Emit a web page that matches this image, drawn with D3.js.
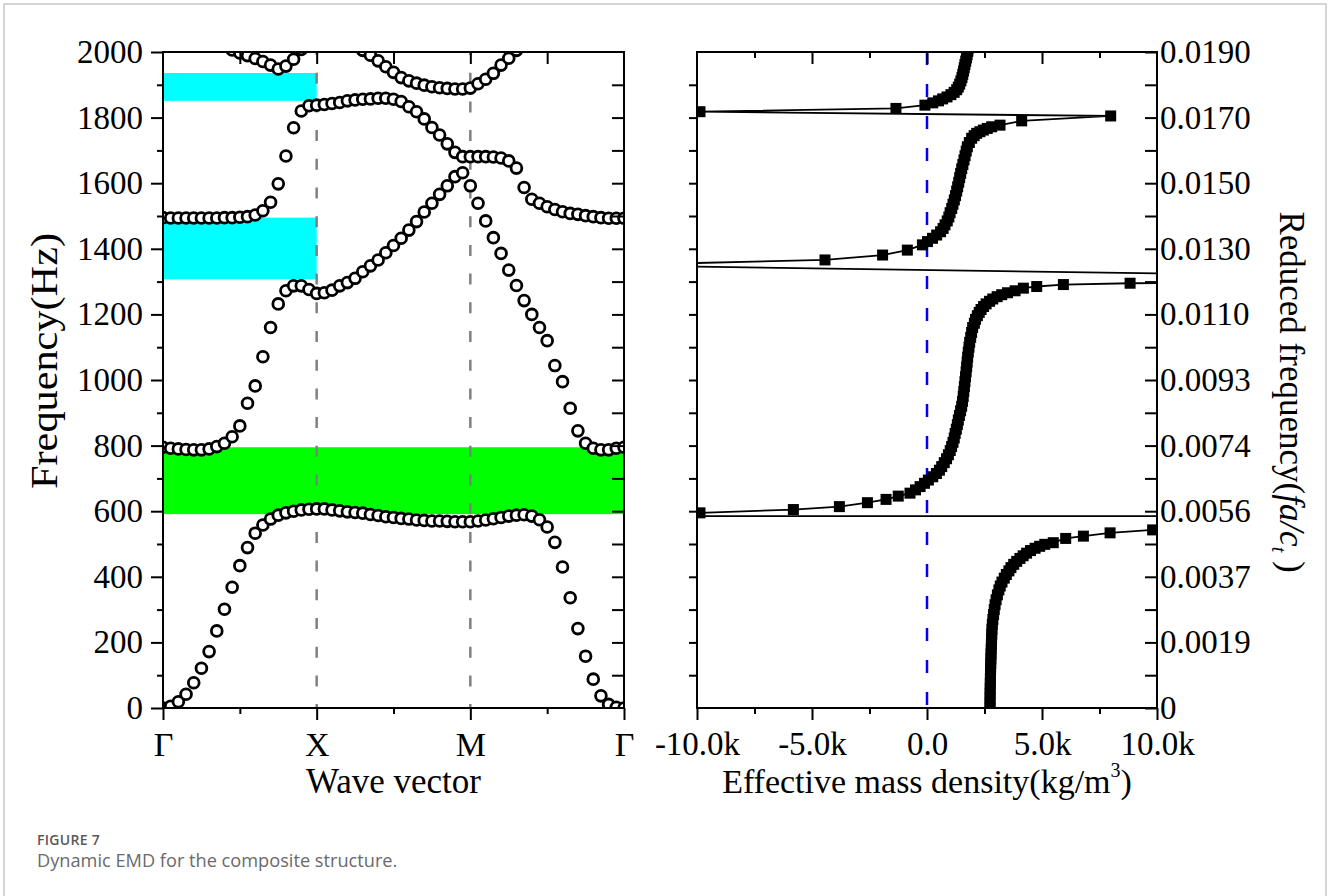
<!DOCTYPE html>
<html><head><meta charset="utf-8">
<script src="https://cdn.jsdelivr.net/npm/d3@7"></script>
<style>
html,body{margin:0;padding:0;background:#fff;}
svg{display:block;}
</style></head>
<body>
<svg id="chart" width="1328" height="896"></svg>
<script>
// ---------------- DATA ----------------
// Left panel: band structure, 61 k-points along Γ-X-M-Γ (index 0..60)
const kTickIdx = [0, 20, 40, 60];
const kLabels = ["Γ", "X", "M", "Γ"];
const branchA = [0,5,19,42,77,121,172,235,301,368,434,489,533,558,576,588,595,600,604,606,607,
  607,604,601,598,596,594,590,587,583,581,578,576,573,572,570,570,569,568,568,568,
  570,573,577,581,585,588,589,585,574,552,505,430,336,242,158,88,37,11,2,0];
const branchB = [795,792,790,788,787,787,790,797,807,827,860,929,982,1071,1160,1232,1272,1287,1287,1276,1264,
  1266,1274,1287,1297,1310,1330,1348,1366,1388,1410,1432,1457,1483,1512,1539,1566,1592,1620,1632,1592,
  1539,1485,1434,1386,1335,1288,1242,1200,1160,1120,1044,995,914,845,807,792,787,787,792,795];
const branchC = [1495,1494,1494,1494,1494,1494,1494,1494,1495,1495,1496,1498,1503,1516,1542,1598,1683,1769,1820,1836,1838,
  1840,1843,1846,1851,1854,1856,1857,1859,1859,1856,1849,1833,1818,1796,1770,1747,1720,1694,1681,1681,
  1681,1681,1680,1677,1668,1646,1587,1551,1539,1528,1520,1513,1508,1505,1501,1498,1495,1493,1493,1493];
const branchD = [null,null,null,null,null,null,null,null,null,2006,1997,1989,1980,1971,1960,1948,1957,1978,2008,null,null,
  null,null,null,null,null,null,null,null,null,null,null,null,null,null,null,null,null,null,null,null,
  null,null,null,null,null,null,null,null,null,null,null,null,null,null,null,null,null,null,null,null];
const branchE = [null,null,null,null,null,null,null,null,null,null,null,null,null,null,null,null,null,null,null,null,null,
  null,null,null,null,2018,2005,1990,1973,1955,1938,1922,1912,1905,1899,1894,1891,1889,1887,1887,1890,
  1903,1917,1935,1960,1981,2005,null,null,null,null,null,null,null,null,null,null,null,null,null,null];
// Band gaps (Hz) and their k extent
const gapLow  = [591, 1307, 1851];
const gapHigh = [795, 1495, 1936];
const gapKEnd = [60, 20, 20];

// Frequency axis
const freqTicks = [0,200,400,600,800,1000,1200,1400,1600,1800,2000];
const freqLabels = ["0","200","400","600","800","1000","1200","1400","1600","1800","2000"];
const reducedLabels = ["0","0.0019","0.0037","0.0056","0.0074","0.0093","0.0110","0.0130","0.0150","0.0170","0.0190"];

// Right panel: effective mass density sweep
const emdFreq = [0,15,30,45,60,75,90,105,120,135,150,165,180,195,210,225,240,255,270,285,300,315,330,345,360,372,384,396,407,418,428,438,447,456,464,472,480,487,493,499,504,517,524,534,543,584,586,
  595,605,614,626,636,646,655,665,675,685,695,705,715,725,736,748,760,772,785,797,810,823,837,850,864,878,892,906,920,935,950,965,980,995,1010,1025,1040,1055,1070,1085,1100,1115,1130,1145,1160,1173,1185,1196,1206,1215,1224,1232,1240,1247,1254,1260,1266,1272,1280,1285,1291,1295,1304,1350,
  1366,1381,1396,1412,1422,1432,1442,1452,1462,1473,1485,1497,1510,1523,1536,1549,1562,1576,1589,1603,1617,1630,1644,1657,1671,1684,1698,1711,1724,1737,1745,1752,1757,1762,1767,1772,1777,1790,1805,
  1818,1828,1838,1845,1851,1857,1863,1870,1877,1885,1893,1902,1912,1922,1932,1942,1952,1962,1972,1982,1992,2002,2012];
const emdDensity = [2740,2740,2742,2745,2748,2752,2756,2760,2766,2772,2778,2785,2792,2800,2808,2815,2825,2840,2865,2895,2925,2960,3005,3060,3125,3185,3260,3360,3450,3560,3650,3770,3900,4040,4180,4330,4500,4700,4900,5120,5490,6030,6800,7960,9810,200000,-200000,
  -9870,-5810,-3810,-2590,-1780,-1250,-740,-500,-300,-110,60,250,410,540,640,750,850,930,1010,1070,1130,1185,1225,1275,1320,1362,1410,1460,1507,1545,1575,1600,1625,1650,1675,1700,1725,1745,1768,1795,1825,1855,1900,1940,1985,2060,2110,2190,2270,2350,2460,2570,2720,2860,3050,3250,3500,3830,4190,4770,5930,8830,30000,-14000,
  -4435,-1930,-855,-200,20,240,420,590,700,783,880,950,1005,1075,1130,1188,1240,1290,1333,1380,1420,1464,1510,1560,1609,1655,1705,1754,1840,1942,2050,2160,2300,2449,2620,2812,3174,4116,7986,
  -9870,-1350,-90,250,500,680,870,1040,1180,1290,1360,1420,1475,1520,1555,1590,1620,1650,1685,1715,1745,1775,1800];
const densTicks = [-10000,-5000,0,5000,10000];
const densLabels = ["-10.0k","-5.0k","0.0","5.0k","10.0k"];

// ---------------- DRAWING ----------------
const SERIF = '"Liberation Serif","Times New Roman",serif';
const FS = 33;
const svg = d3.select("#chart");
svg.append("rect").attr("x",0).attr("y",0).attr("width",1328).attr("height",896).attr("fill","#fff");
svg.append("rect").attr("x",4).attr("y",4).attr("width",1322).attr("height",905)
  .attr("fill","none").attr("stroke","#c8c8c8").attr("stroke-width",1.5);

const L = {x0:163, x1:624, y0:52, y1:708};
const R = {x0:697, x1:1157, y0:52, y1:708};
const xL = d3.scaleLinear().domain([0,60]).range([L.x0,L.x1]);
const yF = d3.scaleLinear().domain([0,2000]).range([L.y1,L.y0]);
const xR = d3.scaleLinear().domain([-10000,10000]).range([R.x0,R.x1]);

const defs = svg.append("defs");
defs.append("clipPath").attr("id","clipL").append("rect")
  .attr("x",L.x0).attr("y",L.y0).attr("width",L.x1-L.x0).attr("height",L.y1-L.y0);
defs.append("clipPath").attr("id","clipR").append("rect")
  .attr("x",R.x0).attr("y",R.y0).attr("width",R.x1-R.x0).attr("height",R.y1-R.y0);

// ---- Left panel ----
const gL = svg.append("g").attr("clip-path","url(#clipL)");
const gapColors = ["#00ff00","#00ffff","#00ffff"];
gL.selectAll("rect.gap").data(d3.range(gapLow.length)).enter().append("rect")
  .attr("x", xL(0)).attr("width", i => xL(gapKEnd[i]) - xL(0))
  .attr("y", i => yF(gapHigh[i])).attr("height", i => yF(gapLow[i]) - yF(gapHigh[i]))
  .attr("fill", i => gapColors[i]);
gL.selectAll("line.sym").data([kTickIdx[1], kTickIdx[2]]).enter().append("line")
  .attr("x1", d => xL(d)).attr("x2", d => xL(d)).attr("y1", L.y0).attr("y2", L.y1)
  .attr("stroke","#808080").attr("stroke-width",2.5)
  .attr("stroke-dasharray","11 17.7").attr("stroke-dashoffset",8);

const branches = [branchA, branchB, branchC, branchD, branchE];
branches.forEach(br => {
  gL.selectAll(null).data(br.map((f,i)=>({i,f})).filter(d=>d.f!==null)).enter().append("circle")
    .attr("cx", d => xL(d.i)).attr("cy", d => yF(d.f)).attr("r", 5.4)
    .attr("fill","#fff").attr("stroke","#000").attr("stroke-width",2.8);
});

function styleAxis(g){
  g.select(".domain").remove();
  g.selectAll(".tick line").attr("stroke","#000").attr("stroke-width",2);
  g.selectAll("text").attr("font-family",SERIF).attr("font-size",FS).attr("fill","#000");
  return g;
}
// left axis (outward)
styleAxis(svg.append("g").attr("transform",`translate(${L.x0},0)`)
  .call(d3.axisLeft(yF).tickValues(freqTicks).tickSize(12).tickPadding(8).tickFormat((d,i)=>freqLabels[i])));
styleAxis(svg.append("g").attr("transform",`translate(${L.x0},0)`)
  .call(d3.axisLeft(yF).tickValues(d3.range(100,2000,200)).tickSize(6).tickFormat("")));
// right side of left panel (inward)
styleAxis(svg.append("g").attr("transform",`translate(${L.x1},0)`)
  .call(d3.axisLeft(yF).tickValues(d3.range(100,2000,100)).tickSize(12).tickFormat("")));
// bottom
const axBL = styleAxis(svg.append("g").attr("transform",`translate(0,${L.y1})`)
  .call(d3.axisBottom(xL).tickValues(kTickIdx).tickSize(12).tickPadding(12).tickFormat((d,i)=>kLabels[i])));
axBL.selectAll("text").attr("dy","0.71em").attr("font-size",34);
styleAxis(svg.append("g").attr("transform",`translate(0,${L.y1})`)
  .call(d3.axisBottom(xL).tickValues([10,30,50]).tickSize(6).tickFormat("")));
// top (inward)
styleAxis(svg.append("g").attr("transform",`translate(0,${L.y0})`)
  .call(d3.axisBottom(xL).tickValues([10,20,30,40,50]).tickSize(12).tickFormat("")));
svg.append("rect").attr("x",L.x0).attr("y",L.y0).attr("width",L.x1-L.x0).attr("height",L.y1-L.y0)
  .attr("fill","none").attr("stroke","#000").attr("stroke-width",2);

svg.append("text").attr("transform",`translate(57,361) rotate(-90)`)
  .attr("text-anchor","middle").attr("font-family",SERIF).attr("font-size",38)
  .attr("textLength",256).attr("lengthAdjust","spacingAndGlyphs").text("Frequency(Hz)");
svg.append("text").attr("x",(L.x0+L.x1)/2).attr("y",793)
  .attr("text-anchor","middle").attr("font-family",SERIF).attr("font-size",35).text("Wave vector");

// ---- Right panel ----
const gR = svg.append("g").attr("clip-path","url(#clipR)");
gR.append("line").attr("x1",xR(0)).attr("x2",xR(0)).attr("y1",R.y0).attr("y2",R.y1)
  .attr("stroke","#0000ff").attr("stroke-width",2.5).attr("stroke-dasharray","13 19");
const emd = emdFreq.map((f,i)=>({f, d: emdDensity[i]}));
gR.append("path").datum(emd)
  .attr("d", d3.line().x(p=>xR(p.d)).y(p=>yF(p.f)))
  .attr("fill","none").attr("stroke","#000").attr("stroke-width",1.8);
const SQ = 11;
gR.selectAll("rect.pt").data(emd).enter().append("rect")
  .attr("x", p => xR(p.d) - SQ/2).attr("y", p => yF(p.f) - SQ/2)
  .attr("width",SQ).attr("height",SQ).attr("fill","#000");

// left (outward, no labels)
styleAxis(svg.append("g").attr("transform",`translate(${R.x0},0)`)
  .call(d3.axisLeft(yF).tickValues(d3.range(100,2000,100)).tickSize(8).tickFormat("")));
// right (inward) with reduced-frequency labels
styleAxis(svg.append("g").attr("transform",`translate(${R.x1},0)`)
  .call(d3.axisRight(yF).tickValues(freqTicks).tickSize(-12).tickPadding(3).tickFormat((d,i)=>reducedLabels[i])));
styleAxis(svg.append("g").attr("transform",`translate(${R.x1},0)`)
  .call(d3.axisRight(yF).tickValues(d3.range(100,2000,200)).tickSize(-12).tickFormat("")));
// bottom
const axRB = styleAxis(svg.append("g").attr("transform",`translate(0,${R.y1})`)
  .call(d3.axisBottom(xR).tickValues(densTicks).tickSize(12).tickPadding(12).tickFormat((d,i)=>densLabels[i])));
axRB.selectAll("text").attr("dy","0.71em");
styleAxis(svg.append("g").attr("transform",`translate(0,${R.y1})`)
  .call(d3.axisBottom(xR).tickValues([-7500,-2500,2500,7500]).tickSize(6).tickFormat("")));
// top (inward)
styleAxis(svg.append("g").attr("transform",`translate(0,${R.y0})`)
  .call(d3.axisBottom(xR).tickValues(densTicks.slice(1,4)).tickSize(12).tickFormat("")));
styleAxis(svg.append("g").attr("transform",`translate(0,${R.y0})`)
  .call(d3.axisBottom(xR).tickValues([-7500,-2500,2500,7500]).tickSize(6).tickFormat("")));
svg.append("rect").attr("x",R.x0).attr("y",R.y0).attr("width",R.x1-R.x0).attr("height",R.y1-R.y0)
  .attr("fill","none").attr("stroke","#000").attr("stroke-width",2);

const t1 = svg.append("text").attr("x",(R.x0+R.x1)/2).attr("y",793)
  .attr("text-anchor","middle").attr("font-family",SERIF).attr("font-size",34);
t1.append("tspan").text("Effective mass density(kg/m");
t1.append("tspan").attr("font-size",20).attr("dy",-16).text("3");
t1.append("tspan").attr("dy",16).text(")");

const t2 = svg.append("text").attr("transform",`translate(1280,392) rotate(90)`)
  .attr("text-anchor","middle").attr("font-family",SERIF).attr("font-size",35);
t2.append("tspan").text("Reduced frequency(");
t2.append("tspan").attr("font-style","italic").text("fa/c");
t2.append("tspan").attr("font-style","italic").attr("font-size",20).attr("dy",8).text("t");
t2.append("tspan").attr("dy",-8).text(" )");

// Caption
svg.append("text").attr("x",37).attr("y",845).attr("font-family","'Open Sans',sans-serif")
  .attr("font-size",14).attr("font-weight",600).attr("fill","#585858").attr("letter-spacing",0.3).text("FIGURE 7");
svg.append("text").attr("x",37).attr("y",867).attr("font-family","'Open Sans',sans-serif")
  .attr("font-size",18.2).attr("fill","#6a6a6a").text("Dynamic EMD for the composite structure.");
</script>
</body></html>
